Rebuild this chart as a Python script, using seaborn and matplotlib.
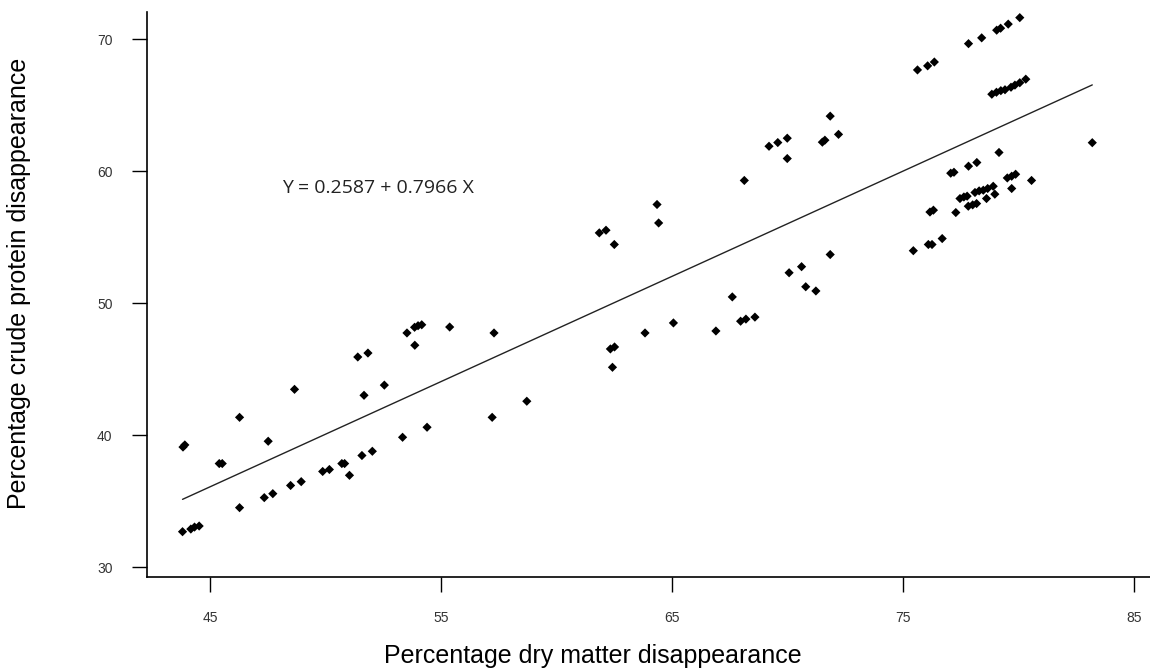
import numpy as np
import pandas as pd
import matplotlib
matplotlib.use("Agg")
import matplotlib.pyplot as plt
import seaborn as sns

# dry matter disappearance (%) and crude protein disappearance (%)
dm = [43.80, 44.16, 44.32, 44.52, 43.82, 43.90, 45.39, 45.52, 46.27, 46.27,
      47.51, 47.34, 47.71, 48.48, 48.94, 48.65, 49.87, 50.16, 50.70, 50.82,
      51.03, 51.57, 52.02, 51.39, 51.83, 51.66, 52.54, 53.33, 54.39, 53.52,
      53.85, 54.00, 54.16, 53.86, 55.37, 57.29, 57.21, 58.71, 61.85, 62.14,
      62.50, 62.33, 62.51, 62.42, 63.83, 65.06, 64.35, 64.42, 66.90, 67.61,
      67.97, 68.20, 68.59, 68.13, 69.20, 69.58, 69.99, 69.99, 70.07, 70.61,
      70.79, 71.23, 71.51, 71.62, 71.85, 72.21, 71.85, 75.45, 76.10, 76.26,
      76.70, 76.17, 76.32, 77.29, 75.63, 76.07, 76.36, 77.84, 78.41, 79.06,
      79.23, 79.56, 80.06, 78.85, 79.05, 79.24, 79.42, 79.68, 79.85, 80.06,
      80.32, 77.07, 77.21, 77.84, 78.20, 79.16, 79.52, 79.71, 79.88, 80.57,
      79.71, 83.20, 77.47, 77.64, 77.78, 78.12, 78.30, 78.48, 78.67, 78.91,
      77.83, 78.02, 78.19, 78.62, 78.98]
cp = [32.70, 32.90, 33.05, 33.13, 39.11, 39.27, 37.86, 37.86, 41.36, 34.52,
      39.55, 35.28, 35.58, 36.20, 36.49, 43.48, 37.26, 37.41, 37.86, 37.86,
      36.97, 38.47, 38.79, 45.93, 46.23, 43.03, 43.80, 39.85, 40.61, 47.75,
      48.18, 48.30, 48.37, 46.82, 48.20, 47.75, 41.36, 42.58, 55.33, 55.53,
      54.45, 46.54, 46.69, 45.15, 47.75, 48.51, 57.48, 56.08, 47.90, 50.48,
      48.64, 48.80, 48.95, 59.30, 61.89, 62.17, 62.50, 60.96, 52.31, 52.77,
      51.25, 50.93, 62.20, 62.35, 64.17, 62.79, 53.69, 53.98, 54.45, 54.45,
      54.90, 56.91, 57.05, 56.87, 67.67, 67.98, 68.27, 69.66, 70.10, 70.68,
      70.83, 71.14, 71.63, 65.83, 65.98, 66.10, 66.17, 66.36, 66.52, 66.70,
      66.97, 59.85, 59.92, 60.38, 60.66, 61.42, 59.49, 59.62, 59.77, 59.30,
      58.69, 62.16, 57.93, 58.05, 58.11, 58.39, 58.51, 58.56, 58.69, 58.86,
      57.35, 57.45, 57.55, 57.93, 58.26]

# fitted regression Y = a + b X
intercept = 0.2587
slope = 0.7966
x_ticks = [45, 55, 65, 75, 85]
y_ticks = [30, 40, 50, 60, 70]

df = pd.DataFrame({"dm": dm, "cp": cp})
x_fit = np.array([min(dm), max(dm)])
fit = pd.DataFrame({"dm": x_fit, "cp": intercept + slope * x_fit})

sns.set_theme(style="ticks")
plt.rcParams["font.family"] = ["Liberation Sans", "DejaVu Sans"]

fig = plt.figure(figsize=(11.5, 6.72), dpi=100)
ax = fig.add_axes([0.128, 0.141, 0.872, 0.841])

sns.scatterplot(data=df, x="dm", y="cp", marker="D", s=22, color="black",
                edgecolor="none", ax=ax)
sns.lineplot(data=fit, x="dm", y="cp", color="#222222", linewidth=1.0, ax=ax)

# regression equation label
ax.text(48.1, 58.75, f"Y = {intercept:.4f} + {slope:.4f} X", fontsize=14,
        family=["Open Sans", "DejaVu Sans"], color="#222222", va="center")

ax.set_xlim(42.27, 85.7)
ax.set_ylim(29.25, 72.05)
ax.set_xticks(x_ticks)
ax.set_yticks(y_ticks)
ax.tick_params(axis="both", direction="out", length=11, width=1.0, color="black",
               labelsize=10, labelcolor="#333333")
ax.tick_params(axis="x", pad=13)
ax.tick_params(axis="y", pad=14)

for side in ["top", "right"]:
    ax.spines[side].set_visible(False)
for side in ["left", "bottom"]:
    ax.spines[side].set_linewidth(1.2)
    ax.spines[side].set_color("black")

ax.set_xlabel("Percentage dry matter disappearance", fontsize=18, color="black")
ax.set_ylabel("Percentage crude protein disappearance", fontsize=18, color="black")
ax.xaxis.set_label_coords(0.444, -0.118)
ax.yaxis.set_label_coords(-0.1157, 0.52)

fig.savefig("out.png", dpi=100)
